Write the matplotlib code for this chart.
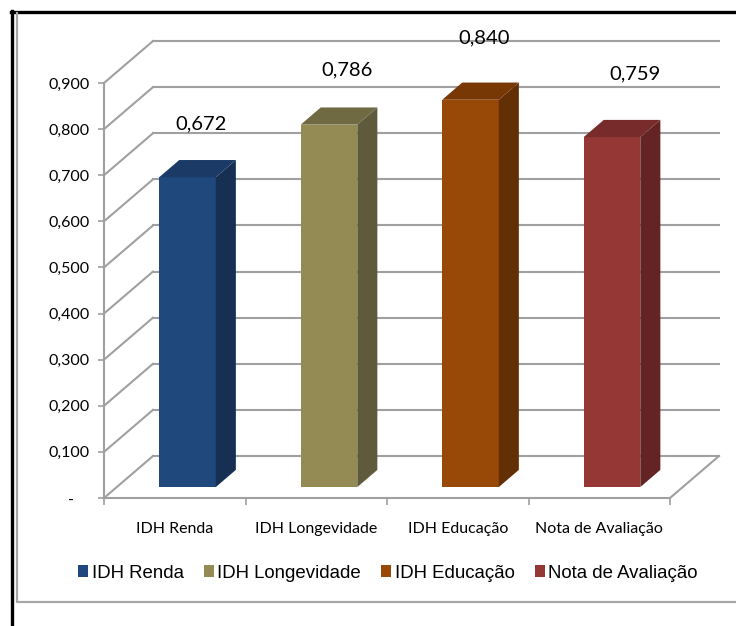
#!/usr/bin/env python3
"""Pseudo-3D column chart of IDH components and the evaluation score."""

import matplotlib

matplotlib.use("Agg")
import matplotlib.pyplot as plt
from matplotlib.lines import Line2D
from matplotlib.patches import Patch, Polygon

CATEGORIES = ["IDH Renda", "IDH Longevidade", "IDH Educação", "Nota de Avaliação"]
VALUES = [0.672, 0.786, 0.840, 0.759]
Y_TICKS = [0.0, 0.1, 0.2, 0.3, 0.4, 0.5, 0.6, 0.7, 0.8, 0.9]

# front / top / side shades for each column
FRONT = ["#1f487c", "#948a54", "#984807", "#953735"]
TOP = ["#1b3b66", "#6f6a42", "#783805", "#772b2a"]
SIDE = ["#162f52", "#5f5a3b", "#632f04", "#632423"]

# oblique projection: a full unit of depth shifts by (DX, DY) in data units
DX = 0.346
DY = 0.091
BAR_W = 0.40
BAR_D0, BAR_D1 = 0.26, 0.67
GRID = "#a0a0a0"

# per-label nudges (pixels) for the value labels
LABEL_NUDGE = [(4, 36), (8, 38), (4, 45), (13, 46)]


def fmt(v):
    if v == 0:
        return "-    "
    return f"{v:.3f}".replace(".", ",")


def main():
    fig = plt.figure(figsize=(7.36, 6.26), dpi=100)
    W, H = 736, 626
    ax = fig.add_axes([104 / W, (H - 498) / H, 566 / W, 415 / H])
    ax.set_xlim(0, 4)
    ax.set_ylim(0, 0.9)
    ax.set_facecolor("none")

    # back wall grid and the diagonals on the left wall
    for v in Y_TICKS:
        ax.plot([DX, 4 + DX], [v + DY, v + DY], color=GRID, lw=1.5,
                clip_on=False, zorder=1)
        ax.plot([0, DX], [v, v + DY], color=GRID, lw=1.5, clip_on=False, zorder=1)
    # floor right edge
    ax.plot([4, 4 + DX], [0, DY], color=GRID, lw=1.5, clip_on=False, zorder=1)

    for i, (v, cf, ct, cs) in enumerate(zip(VALUES, FRONT, TOP, SIDE)):
        x0 = i + 0.5 - BAR_W / 2
        x1 = i + 0.5 + BAR_W / 2
        fx, fy = BAR_D0 * DX, BAR_D0 * DY
        bx, by = BAR_D1 * DX, BAR_D1 * DY
        ax.add_patch(Polygon([(x0 + fx, fy), (x1 + fx, fy), (x1 + fx, v + fy),
                              (x0 + fx, v + fy)], closed=True, facecolor=cf,
                             edgecolor="none", clip_on=False, zorder=3))
        ax.add_patch(Polygon([(x1 + fx, fy), (x1 + bx, by), (x1 + bx, v + by),
                              (x1 + fx, v + fy)], closed=True, facecolor=cs,
                             edgecolor="none", clip_on=False, zorder=3))
        ax.add_patch(Polygon([(x0 + fx, v + fy), (x1 + fx, v + fy),
                              (x1 + bx, v + by), (x0 + bx, v + by)], closed=True,
                             facecolor=ct, edgecolor="none", clip_on=False, zorder=3))
        nx, ny = LABEL_NUDGE[i]
        ax.annotate(fmt(v), xy=(i + 0.5 + (BAR_D0 + BAR_D1) / 2 * DX, v + by),
                    xytext=(nx * 0.72, ny * 0.72), textcoords="offset points",
                    ha="center", va="center", fontsize=14.5, family=["Lato", "DejaVu Sans"],
                    zorder=5)

    for side in ("top", "right"):
        ax.spines[side].set_visible(False)
    for side in ("left", "bottom"):
        ax.spines[side].set_color(GRID)
        ax.spines[side].set_linewidth(1.5)
        ax.spines[side].set_zorder(4)

    ax.set_yticks(Y_TICKS)
    ax.set_yticklabels([fmt(v) for v in Y_TICKS])
    ax.set_xticks(range(5))
    ax.set_xticklabels([])
    ax.set_xticks([i + 0.5 for i in range(4)], minor=True)
    ax.set_xticklabels(CATEGORIES, minor=True)
    ax.tick_params(axis="y", length=4.5, width=1.2, color=GRID, pad=5.5,
                   labelsize=11.5)
    ax.tick_params(axis="x", which="major", length=5, width=1.2, color=GRID)
    ax.tick_params(axis="x", which="minor", length=0, pad=17.5, labelsize=11.5)
    for lab in ax.get_yticklabels() + ax.get_xticklabels(minor=True):
        lab.set_family(["Lato", "DejaVu Sans"])

    handles = [Patch(facecolor=c, edgecolor="none", label=lab)
               for c, lab in zip(FRONT, CATEGORIES)]
    fig.legend(handles=handles, loc="center", bbox_to_anchor=(388 / W, (H - 573) / H),
               ncol=4, frameon=False, handlelength=0.54, handleheight=0.6,
               handletextpad=0.2, columnspacing=1.07,
               prop={"family": ["Liberation Sans", "DejaVu Sans"], "size": 13.4})

    # outer black frame and the grey chart-area border
    fig.add_artist(Line2D([12 / W, 12 / W], [0, 1 - 11 / H], color="black", lw=2.4,
                          transform=fig.transFigure))
    fig.add_artist(Line2D([11 / W, 1], [1 - 12 / H, 1 - 12 / H], color="black", lw=2.4,
                          transform=fig.transFigure))
    fig.add_artist(Line2D([17 / W, 17 / W, 1], [1 - 13 / H, 1 - 602 / H, 1 - 602 / H],
                          color="#a6a6a6", lw=1.6, transform=fig.transFigure))

    fig.savefig("out.png", dpi=100)


if __name__ == "__main__":
    main()
